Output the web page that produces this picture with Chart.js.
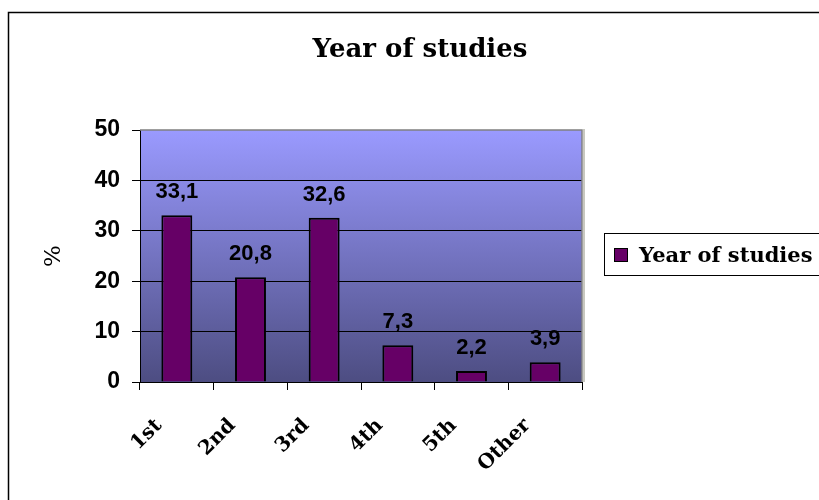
<!DOCTYPE html>
<html>
<head>
<meta charset="utf-8">
<script src="https://cdn.jsdelivr.net/npm/chart.js@4"></script>
<style>
    body { margin: 0; background: #fff; }
    #wrap { width: 819px; height: 500px; position: relative; }
</style>
</head>
<body>
<div id="wrap"><canvas id="yearChart"></canvas></div>
<script>
// chart data
const categories = ["1st", "2nd", "3rd", "4th", "5th", "Other"];
const shares = [33.1, 20.8, 32.6, 7.3, 2.2, 3.9];
const yTicks = [0, 10, 20, 30, 40, 50];
const seriesName = "Year of studies";
const chartTitle = "Year of studies";

const serif = "'DejaVu Serif', 'Liberation Serif', serif";
const sans = "'Liberation Sans', Arial, sans-serif";

// gradient background behind the plot, frame, title and legend
const decorations = {
    id: 'decorations',
    beforeDraw(chart) {
        const {ctx, chartArea: a} = chart;
        const g = ctx.createLinearGradient(0, a.top, 0, a.bottom);
        g.addColorStop(0, '#9a9aff');
        g.addColorStop(1, '#4d4d82');
        ctx.save();
        ctx.fillStyle = g;
        ctx.fillRect(a.left, a.top, a.right - a.left, a.bottom - a.top);
        ctx.restore();
    },
    beforeDatasetsDraw(chart) {
        const {ctx, chartArea: a} = chart;
        ctx.save();
        ctx.strokeStyle = '#c8c8c0';
        ctx.lineWidth = 2;
        ctx.beginPath();
        ctx.moveTo(a.right + 2, a.top - 1);
        ctx.lineTo(a.right + 2, a.bottom);
        ctx.stroke();
        ctx.strokeStyle = '#808080';
        ctx.lineWidth = 1.5;
        ctx.beginPath();
        ctx.moveTo(a.left, a.top);
        ctx.lineTo(a.right, a.top);
        ctx.lineTo(a.right, a.bottom);
        ctx.stroke();
        ctx.restore();
    },
    afterDraw(chart) {
        const ctx = chart.ctx;
        ctx.save();
        ctx.strokeStyle = '#000';
        ctx.lineWidth = 1.5;
        ctx.strokeRect(8.5, 12.5, 900, 600);

        // title
        ctx.fillStyle = '#000';
        ctx.font = "bold 26px " + serif;
        ctx.textAlign = 'center';
        ctx.textBaseline = 'middle';
        ctx.fillText(chartTitle, 420, 50);

        // legend box
        ctx.lineWidth = 1;
        ctx.strokeRect(604.5, 233.5, 300, 42);
        ctx.fillStyle = '#660066';
        ctx.fillRect(614, 248, 14, 14);
        ctx.strokeRect(614.5, 248.5, 13, 13);
        ctx.fillStyle = '#000';
        ctx.font = "bold 21px " + serif;
        ctx.textAlign = 'left';
        ctx.textBaseline = 'alphabetic';
        ctx.fillText(seriesName, 639, 262);
        ctx.restore();
    }
};

// value labels above bars, with decimal comma
const barValues = {
    id: 'barValues',
    afterDatasetsDraw(chart) {
        const ctx = chart.ctx;
        const meta = chart.getDatasetMeta(0);
        ctx.save();
        ctx.font = "bold 22px " + sans;
        ctx.fillStyle = '#000';
        ctx.textAlign = 'center';
        ctx.textBaseline = 'alphabetic';
        meta.data.forEach((bar, i) => {
            ctx.fillText(String(shares[i]).replace('.', ','), bar.x, bar.y - 17);
        });
        ctx.restore();
    }
};

new Chart(document.getElementById('yearChart'), {
    type: 'bar',
    data: {
        labels: categories,
        datasets: [{
            label: seriesName,
            data: shares,
            backgroundColor: '#660066',
            borderColor: '#000',
            borderWidth: 2,
            barPercentage: 0.42,
            categoryPercentage: 1
        }]
    },
    options: {
        responsive: true,
        maintainAspectRatio: false,
        animation: false,
        layout: {
            padding: {top: 130, left: 0, right: 237, bottom: 0}
        },
        plugins: {
            legend: {display: false},
            tooltip: {enabled: false},
            title: {display: false}
        },
        scales: {
            y: {
                min: 0,
                max: 50,
                afterFit: scale => { scale.width = 140; },
                afterBuildTicks: scale => {
                    scale.ticks = yTicks.map(v => ({value: v}));
                },
                border: {color: '#000', width: 1},
                grid: {
                    color: ctx => ctx.tick && ctx.tick.value === 50 ? 'rgba(0,0,0,0)' : '#000',
                    tickColor: '#000',
                    tickLength: 8,
                    lineWidth: 1
                },
                ticks: {
                    color: '#000',
                    padding: 12,
                    font: {family: sans, size: 23, weight: 'bold'}
                },
                title: {
                    display: true,
                    text: '%',
                    color: '#000',
                    font: {family: serif, size: 23},
                    padding: {top: 40, bottom: 0}
                }
            },
            x: {
                afterFit: scale => { scale.height = 118; },
                border: {color: '#000', width: 1},
                grid: {
                    drawOnChartArea: false,
                    offset: true,
                    tickColor: '#000',
                    tickLength: 8
                },
                ticks: {
                    color: '#000',
                    minRotation: 45,
                    maxRotation: 45,
                    padding: 24,
                    labelOffset: -18,
                    font: {family: serif, size: 20, weight: 'bold'}
                }
            }
        }
    },
    plugins: [decorations, barValues]
});
</script>
</body>
</html>
